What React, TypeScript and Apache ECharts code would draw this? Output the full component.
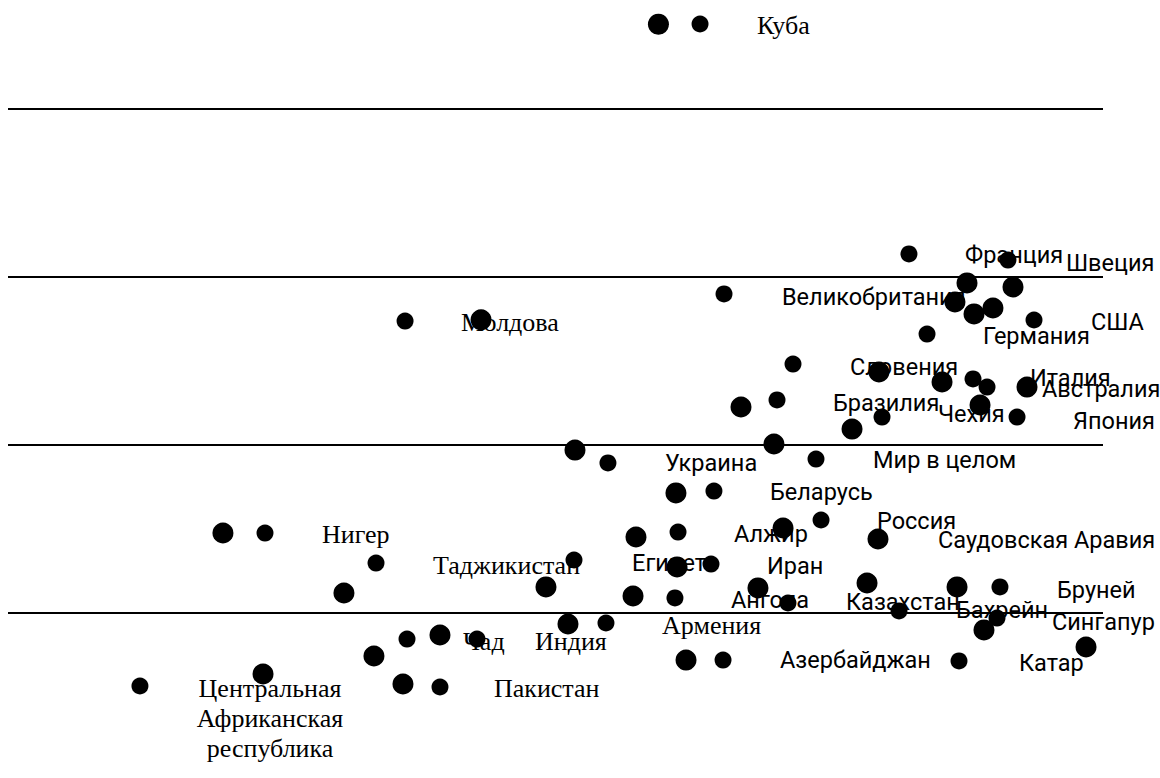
import React, { useEffect, useRef } from "react";
import * as echarts from "echarts";

// Horizontal reference levels
const gridLevels: number[] = [20, 40, 60, 80];

// Larger markers [x, y]
const bigPoints: [number, number][] = [
  [59.4, 90.1], [43.2, 54.9], [19.63, 29.52], [30.68, 22.38], [23.29, 12.74],
  [33.42, 14.88], [36.07, 11.55], [39.45, 17.38], [51.14, 18.69], [49.13, 23.1],
  [51.78, 39.4], [57.08, 22.02], [57.35, 29.05], [61.0, 34.29], [61.1, 25.48],
  [61.92, 14.4], [66.94, 44.52], [69.95, 40.12], [70.78, 30.12], [68.49, 22.98],
  [77.08, 41.9], [79.54, 48.69], [79.45, 28.81], [78.45, 23.57], [85.3, 47.5],
  [88.77, 44.76], [86.48, 57.02], [87.58, 59.29], [88.22, 55.6], [89.95, 56.31],
  [91.78, 58.81], [93.06, 46.9], [86.67, 23.1], [89.13, 17.98], [98.45, 15.95],
];

// Smaller markers [x, y]
const smallPoints: [number, number][] = [
  [63.2, 90.12], [36.26, 54.76], [23.47, 29.52], [33.61, 25.95], [12.05, 11.31],
  [36.44, 16.9], [42.83, 16.9], [39.45, 11.19], [51.69, 26.31], [54.61, 18.81],
  [54.79, 37.86], [61.19, 29.64], [64.2, 25.83], [60.91, 21.79], [64.47, 34.52],
  [65.3, 14.4], [65.39, 57.98], [70.23, 45.36], [71.69, 49.64], [71.23, 21.19],
  [73.79, 38.33], [74.25, 31.07], [79.82, 43.33], [82.28, 62.74], [83.93, 53.21],
  [88.13, 47.86], [89.41, 46.9], [91.32, 62.02], [93.7, 54.88], [92.15, 43.33],
  [90.59, 23.1], [81.37, 20.24], [86.85, 14.29], [90.32, 19.4],
];

// Country labels (serif) [x, y, name]
const serifLabels: [number, number, string][] = [
  [68.4, 90.0, "Куба"],
  [41.37, 54.64, "Молдова"],
  [28.68, 29.29, "Нигер"],
  [38.81, 25.71, "Таджикистан"],
  [41.55, 16.55, "Чад"],
  [48.13, 16.55, "Индия"],
  [44.38, 11.07, "Пакистан"],
  [59.73, 18.57, "Армения"],
];
const carLabel: [number, number, string] = [23.93, 7.5, "Центральная\nАфриканская\nреспублика"];

// Country labels (sans) [x, y, name]
const sansLabels: [number, number, string][] = [
  [87.4, 62.62, "Франция"],
  [96.62, 61.67, "Швеция"],
  [70.68, 57.62, "Великобритания"],
  [98.9, 54.64, "США"],
  [89.04, 52.98, "Германия"],
  [76.89, 49.29, "Словения"],
  [93.33, 47.98, "Италия"],
  [94.43, 46.67, "Австралия"],
  [75.34, 45.0, "Бразилия"],
  [84.93, 43.69, "Чехия"],
  [97.26, 42.86, "Япония"],
  [60.0, 37.86, "Украина"],
  [79.0, 38.21, "Мир в целом"],
  [69.59, 34.4, "Беларусь"],
  [66.3, 29.4, "Алжир"],
  [79.36, 30.95, "Россия"],
  [84.93, 28.69, "Саудовская Аравия"],
  [56.99, 25.95, "Египет"],
  [69.32, 25.6, "Иран"],
  [95.8, 22.74, "Бруней"],
  [76.53, 21.31, "Казахстан"],
  [66.03, 21.55, "Ангола"],
  [86.58, 20.36, "Бахрейн"],
  [95.34, 18.93, "Сингапур"],
  [70.5, 14.4, "Азербайджан"],
  [92.33, 14.05, "Катар"],
];

const SERIF = "'Liberation Serif', 'Times New Roman', serif";
const SANS = "Roboto, 'Liberation Sans', sans-serif";

export default function App() {
  const ref = useRef<HTMLDivElement>(null);

  useEffect(() => {
    if (!ref.current) return;
    const chart = echarts.init(ref.current, null, { renderer: "svg" });

    const labelSeries = (items: any[], font: string, size: number) => ({
      type: "scatter",
      z: 1,
      silent: true,
      symbol: "circle",
      symbolSize: 0,
      itemStyle: { color: "rgba(0,0,0,0)", opacity: 1 },
      label: {
        show: true,
        position: [0, 0],
        align: "left",
        verticalAlign: "middle",
        fontFamily: font,
        fontSize: size,
        color: "#000",
        opacity: 1,
        formatter: (p: any) => p.name,
      },
      data: items,
    });

    chart.setOption({
      animation: false,
      backgroundColor: "#fff",
      grid: { left: 8, right: 57, top: 8.2, bottom: 39 },
      xAxis: { type: "value", min: 0, max: 100, show: false },
      yAxis: { type: "value", min: 5, max: 92, show: false },
      series: [
        {
          type: "scatter",
          z: 0,
          silent: true,
          data: [],
          markLine: {
            silent: true,
            symbol: ["none", "none"],
            label: { show: false },
            lineStyle: { color: "#000", width: 2, type: "solid", opacity: 1 },
            data: gridLevels.map((v) => ({ yAxis: v })),
          },
        },
        labelSeries(
          serifLabels.map(([x, y, n]) => ({ value: [x, y], name: n })).concat([
            {
              value: [carLabel[0], carLabel[1]],
              name: carLabel[2],
              label: { align: "center", lineHeight: 30 },
            } as any,
          ]),
          SERIF,
          26
        ),
        labelSeries(
          sansLabels.map(([x, y, n]) => ({ value: [x, y], name: n })),
          SANS,
          23.5
        ),
        {
          type: "scatter",
          z: 3,
          silent: true,
          symbol: "circle",
          symbolSize: 21,
          itemStyle: { color: "#000", opacity: 1 },
          data: bigPoints,
        },
        {
          type: "scatter",
          z: 3,
          silent: true,
          symbol: "circle",
          symbolSize: 17,
          itemStyle: { color: "#000", opacity: 1 },
          data: smallPoints,
        },
      ],
    });

    return () => chart.dispose();
  }, []);

  return (
    <div
      ref={ref}
      style={{ position: "fixed", left: 0, top: 0, width: 1160, height: 778, background: "#fff" }}
    />
  );
}
